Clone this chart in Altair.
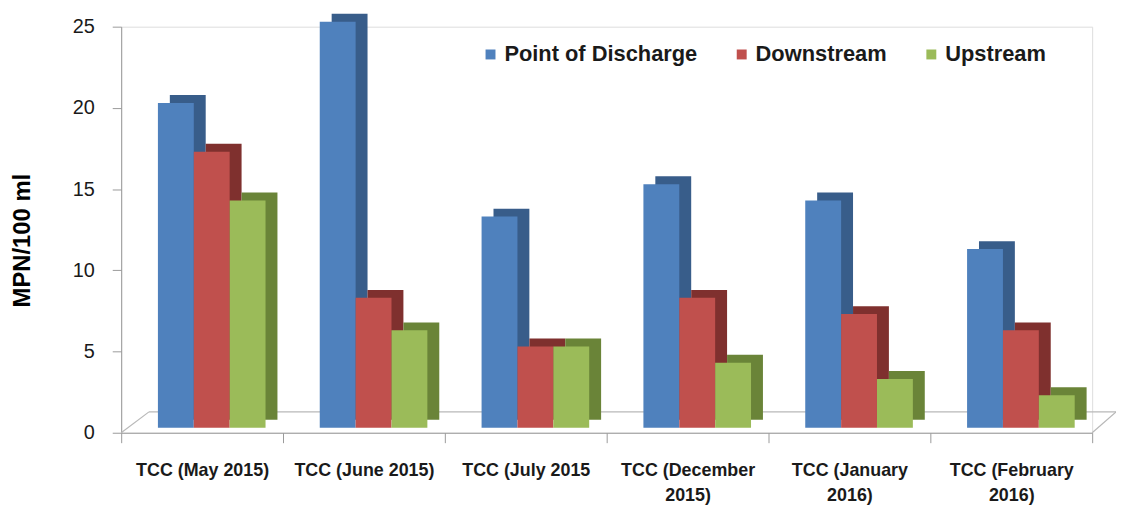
import altair as alt
import pandas as pd

categories = ["TCC (May 2015)", "TCC (June 2015)", "TCC (July 2015",
              "TCC (December 2015)", "TCC (January 2016)", "TCC (February 2016)"]
series = ["Point of Discharge", "Downstream", "Upstream"]
point_of_discharge = [20, 25, 13, 15, 14, 11]
downstream = [17, 8, 5, 8, 7, 6]
upstream = [14, 6, 5, 4, 3, 2]

front_colors = ["#4F81BD", "#C0504D", "#9BBB59"]
side_colors = ["#385D8A", "#7F302E", "#6A8438"]

rows = []
for i, c in enumerate(categories):
    for s, vals in zip(series, [point_of_discharge, downstream, upstream]):
        rows.append({"category": c, "series": s, "value": vals[i]})
df = pd.DataFrame(rows)

W, H = 978, 409
step = W / len(categories)
bw = step * 0.665          # width of the three front faces together
start = 37                 # front faces start this far right of the band edge
depth_x, depth_y = 12, 8   # 3-D depth of the bars
base_lift = 5

x_enc = alt.X("category:N", sort=categories,
              scale=alt.Scale(paddingInner=0, paddingOuter=0),
              axis=alt.Axis(title=None, labelAngle=0, tickBand="extent",
                            labelFont="Liberation Sans", labelFontWeight="bold",
                            labelFontSize=18, labelColor="#1a1a1a",
                            labelLineHeight=25, labelPadding=19,
                            labelExpr="length(datum.label) > 16 ? [slice(datum.label, 0, lastindexof(datum.label, ' ')), slice(datum.label, lastindexof(datum.label, ' ') + 1)] : datum.label",
                            domainColor="#9a9a9a", tickColor="#9a9a9a", tickSize=10,
                            labelLimit=200))
y_enc = alt.Y("value:Q", scale=alt.Scale(domain=[0, 25], nice=False),
              axis=alt.Axis(title="MPN/100 ml", values=[0, 5, 10, 15, 20, 25],
                            grid=False, labelFont="Liberation Sans", labelFontSize=20,
                            labelColor="#1a1a1a", labelPadding=18, tickSize=9,
                            tickColor="#9a9a9a", domainColor="#9a9a9a",
                            titleFont="Liberation Sans", titleFontSize=24,
                            titleFontWeight="bold", titleColor="#000000",
                            titleX=-99, titleY=215, titleBaseline="middle",
                            titleAlign="center"))

base = alt.Chart(df)

back = base.mark_bar(yOffset=-(base_lift + depth_y), y2Offset=-(base_lift + depth_y)).encode(
    x=x_enc,
    xOffset=alt.XOffset("series:N", sort=series,
                        scale=alt.Scale(range=[start + depth_x, start + depth_x + bw],
                                        paddingInner=0, paddingOuter=0)),
    y=y_enc,
    y2=alt.datum(0),
    color=alt.Color("series:N", sort=series,
                    scale=alt.Scale(domain=series, range=side_colors), legend=None),
)

front = base.mark_bar(yOffset=-base_lift, y2Offset=-base_lift).encode(
    x=x_enc,
    xOffset=alt.XOffset("series:N", sort=series,
                        scale=alt.Scale(range=[start, start + bw],
                                        paddingInner=0, paddingOuter=0)),
    y=y_enc,
    y2=alt.datum(0),
    color=alt.Color("series:N", sort=series,
                    scale=alt.Scale(domain=series, range=front_colors),
                    legend=alt.Legend(title=None, orient="none", direction="horizontal",
                                      legendX=361, legendY=17, symbolType="square",
                                      symbolSize=100, symbolStrokeWidth=0,
                                      labelFont="Liberation Sans", labelFontSize=22,
                                      labelFontWeight="bold", labelColor="#1a1a1a",
                                      labelOffset=3, columnPadding=33, padding=0,
                                      labelLimit=300)),
)

floor_color = "#b8b8b8"
one = pd.DataFrame({"v": [0]})
floor_back = alt.Chart(one).mark_rule(
    color=floor_color, strokeWidth=1.2, yOffset=-21).encode(
    x=alt.value(28), x2=alt.value(W + 24), y=alt.datum(0))
floor_left = alt.Chart(one).mark_rule(
    color=floor_color, strokeWidth=1.2, y2Offset=-21).encode(
    x=alt.value(0), x2=alt.value(28), y=alt.datum(0), y2=alt.datum(0))
floor_right = alt.Chart(one).mark_rule(
    color=floor_color, strokeWidth=1.2, y2Offset=-21).encode(
    x=alt.value(W), x2=alt.value(W + 24), y=alt.datum(0), y2=alt.datum(0))

chart = alt.layer(floor_back, floor_left, floor_right, back, front).resolve_scale(
    color="independent", xOffset="independent"
).properties(
    width=W, height=H,
    autosize=alt.AutoSizeParams(type="none"),
    padding={"left": 114, "top": 17, "right": 24, "bottom": 74},
).configure_view(stroke=None).configure(background="white")

chart.save("out.html", embed_options={"renderer": "svg", "actions": False})
